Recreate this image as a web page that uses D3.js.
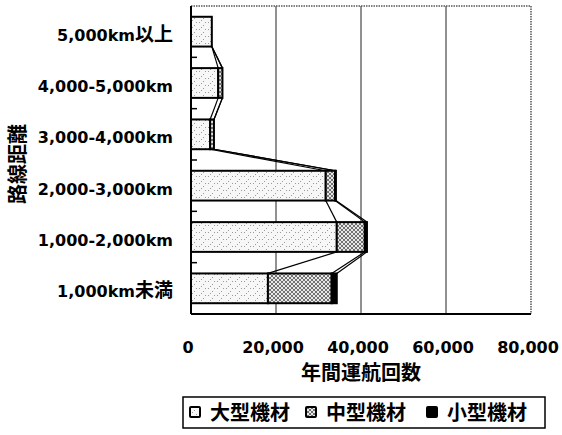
<!DOCTYPE html>
<html><head><meta charset="utf-8">
<script src="https://cdn.jsdelivr.net/npm/d3@7"></script>
<style>
body{margin:0;background:#fff;}
svg{display:block;}
text{font-family:"DejaVu Sans","Noto Sans CJK JP",sans-serif;font-weight:bold;fill:#000;}
.cjk{font-family:"Noto Sans CJK JP",sans-serif;}
</style></head>
<body>
<svg id="c" width="562" height="435"></svg>
<script>
// categories top -> bottom
const categories = ["5,000km以上","4,000-5,000km","3,000-4,000km","2,000-3,000km","1,000-2,000km","1,000km未満"];
const seriesNames = ["大型機材","中型機材","小型機材"];
const large  = [4900, 6400, 4500, 31700, 34300, 18100];
const medium = [0,    1000,  900,  2200,  6600, 15000];
const small  = [0,       0,    0,   200,   500,  1200];
const xTicks = [0, 20000, 40000, 60000, 80000];
const xTitle = "年間運航回数";
const yTitle = "路線距離";

const svg = d3.select("#c");
const L = 191, R = 531, T = 6, B = 314;
const x = d3.scaleLinear().domain([0, 80000]).range([L, R]);
const y = d3.scaleBand().domain(categories).range([T, B]).paddingInner(0.42).paddingOuter(0.21);

const defs = svg.append("defs");
// stipple pattern for large
const p1 = defs.append("pattern").attr("id","pLarge").attr("patternUnits","userSpaceOnUse").attr("width",9).attr("height",7);
p1.append("rect").attr("width",9).attr("height",7).attr("fill","#f7f7f7");
[[1,1],[5,4],[7,1],[3,6]].forEach(([a,b])=>p1.append("rect").attr("x",a).attr("y",b).attr("width",1).attr("height",1).attr("fill","#9a9a9a"));
// crosshatch for medium
const p2 = defs.append("pattern").attr("id","pMed").attr("patternUnits","userSpaceOnUse").attr("width",4).attr("height",4);
p2.append("rect").attr("width",4).attr("height",4).attr("fill","#e8e8e8");
p2.append("path").attr("d","M0,0L4,4M4,0L0,4").attr("stroke","#555").attr("stroke-width",0.8);
const fills = ["url(#pLarge)","url(#pMed)","#000"];

// gridlines
svg.append("g").selectAll("line").data(xTicks.slice(1,-1)).join("line")
  .attr("x1",d=>x(d)).attr("x2",d=>x(d)).attr("y1",T).attr("y2",B)
  .attr("stroke","#222").attr("stroke-width",1);
// dotted top/right frame
svg.append("path").attr("d",`M${L},${T}H${R}V${B}`).attr("fill","none")
  .attr("stroke","#555").attr("stroke-width",1.5).attr("stroke-dasharray","1.5,1");

// stacked data
const stacked = categories.map((c,i)=>{
  const v=[large[i],medium[i],small[i]]; let s=0;
  return v.map((d,k)=>{const r={cat:c,k,x0:s,x1:s+d}; s+=d; return r;});
});

// series lines
const sl = svg.append("g");
for(let i=0;i<categories.length-1;i++){
  for(let k=0;k<3;k++){
    const a=stacked[i][k].x1, b=stacked[i+1][k].x1;
    sl.append("line").attr("x1",x(a)).attr("y1",y(categories[i])+y.bandwidth())
      .attr("x2",x(b)).attr("y2",y(categories[i+1]))
      .attr("stroke","#000").attr("stroke-width",1.2);
  }
}

// bars
svg.append("g").selectAll("rect").data(stacked.flat().filter(d=>d.x1>d.x0)).join("rect")
  .attr("x",d=>x(d.x0)).attr("width",d=>x(d.x1)-x(d.x0))
  .attr("y",d=>y(d.cat)).attr("height",y.bandwidth())
  .attr("fill",d=>fills[d.k]).attr("stroke","#000").attr("stroke-width",2);

// axes lines
svg.append("line").attr("x1",L).attr("x2",L).attr("y1",T).attr("y2",B).attr("stroke","#000").attr("stroke-width",2);
svg.append("line").attr("x1",L).attr("x2",R).attr("y1",B).attr("y2",B).attr("stroke","#000").attr("stroke-width",2);
// inner ticks at category boundaries
const step = y.step();
const bounds = d3.range(1,categories.length).map(i=>T+i*step);
svg.append("g").selectAll("line").data(bounds).join("line")
  .attr("x1",L).attr("x2",L+6).attr("y1",d=>d).attr("y2",d=>d).attr("stroke","#000").attr("stroke-width",1.5);

// category labels
const cl = svg.append("g").selectAll("text").data(categories).join("text")
  .attr("x",173).attr("y",d=>y(d)+y.bandwidth()/2+9)
  .attr("text-anchor","end").attr("font-size",16);
cl.each(function(d){
  const t=d3.select(this);
  const parts = d.match(/[\u3000-\u9fff]+|[^\u3000-\u9fff]+/g);
  parts.forEach(p=>{
    const ts=t.append("tspan").text(p);
    if(/[\u3000-\u9fff]/.test(p)) ts.attr("class","cjk").attr("font-size",19);
  });
});

// x tick labels
svg.append("g").selectAll("text").data(xTicks).join("text")
  .attr("x",d=>x(d)-3).attr("y",353).attr("text-anchor","middle").attr("font-size",16)
  .text(d=>d3.format(",")(d));

// x title
svg.append("text").attr("class","cjk").attr("x",361).attr("y",380).attr("text-anchor","middle")
  .attr("font-size",20).text(xTitle);
// y title
svg.append("text").attr("class","cjk").attr("transform","translate(25,164) rotate(-90)")
  .attr("text-anchor","middle").attr("font-size",20).text(yTitle);

// legend
svg.append("rect").attr("x",183).attr("y",397).attr("width",362).attr("height",31)
  .attr("fill","#fff").attr("stroke","#000").attr("stroke-width",1.5);
const lx=[190,306,427];
seriesNames.forEach((n,k)=>{
  svg.append("rect").attr("x",lx[k]).attr("y",407).attr("width",10).attr("height",10)
    .attr("fill",fills[k]).attr("stroke","#000").attr("stroke-width",2).attr("rx",1);
  svg.append("text").attr("class","cjk").attr("x",lx[k]+20).attr("y",420).attr("font-size",20).text(n);
});
</script>
</body></html>
